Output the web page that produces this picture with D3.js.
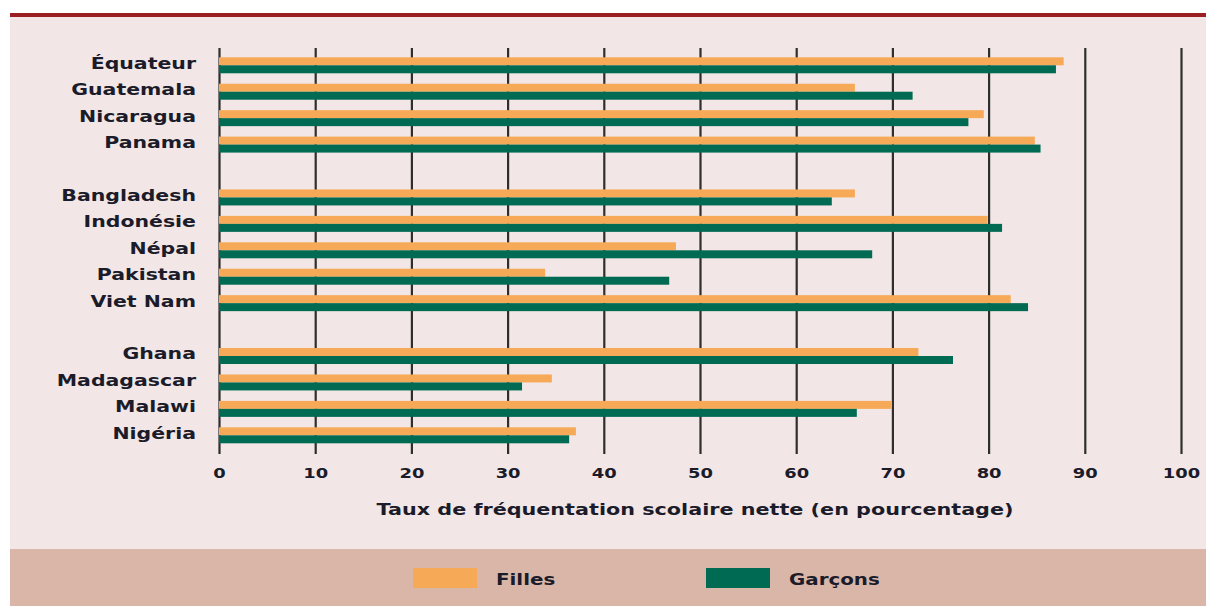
<!DOCTYPE html>
<html>
<head>
<meta charset="utf-8">
<script src="https://cdn.jsdelivr.net/npm/d3@7"></script>
<style>
  body { margin: 0; background: #ffffff; }
  svg { display: block; }
  text { font-family: "DejaVu Sans", sans-serif; font-weight: bold; fill: #1b1b2a; }
</style>
</head>
<body>
<div id="c"></div>
<script>
// countries in display order, regions split after these names
var countries = ["Équateur", "Guatemala", "Nicaragua", "Panama",
	"Bangladesh", "Indonésie", "Népal", "Pakistan", "Viet Nam",
	"Ghana", "Madagascar", "Malawi", "Nigéria"];
var region_ends = ["Panama", "Viet Nam"];

var filles  = [87.8, 66.1, 79.5, 84.8, 66.1, 79.9, 47.5, 33.9, 82.3, 72.7, 34.6, 69.9, 37.1];
var garcons = [87.0, 72.1, 77.9, 85.4, 63.7, 81.4, 67.9, 46.8, 84.1, 76.3, 31.5, 66.3, 36.4];

var series = ["Filles", "Garçons"];
var x_ticks = [0, 10, 20, 30, 40, 50, 60, 70, 80, 90, 100];
var x_title = "Taux de fréquentation scolaire nette (en pourcentage)";

var width = 1206;
var height = 606;
var stretch = 1.28; // the source text is wide

var colors = { "Filles": "#f6aa57", "Garçons": "#006a52" };

// slots: countries plus blank rows between regions
var slots = [];
countries.forEach(function(c) {
	slots.push(c);
	if (region_ends.indexOf(c) >= 0) { slots.push("gap-" + c); }
});

var data = countries.map(function(c, i) {
	return { country: c, values: [
		{ key: "Filles", v: filles[i] },
		{ key: "Garçons", v: garcons[i] } ] };
});

var svg = d3.select("#c").append("svg")
	.attr("width", width)
	.attr("height", height);

// background pieces
svg.append("rect")
	.attr("x", 10).attr("y", 17)
	.attr("width", width - 10).attr("height", 532)
	.attr("fill", "#f2e7e6");

svg.append("rect")
	.attr("x", 10).attr("y", 13)
	.attr("width", width - 10).attr("height", 4)
	.attr("fill", "#9a1f22");

svg.append("rect")
	.attr("x", 10).attr("y", 549)
	.attr("width", width - 10).attr("height", 57)
	.attr("fill", "#dab6a9");

var x_scale = d3.scaleLinear()
	.domain([0, 100])
	.range([219, 1181]);

var y_scale = d3.scaleBand()
	.domain(slots)
	.range([57.3, 443.3])
	.paddingInner(0.395)
	.paddingOuter(0);

var sub_scale = d3.scaleBand()
	.domain(series)
	.range([0, y_scale.bandwidth()]);

var grid_top = 48, grid_bottom = 454;

// gridlines + tick labels
var x_axis = svg.append("g")
	.attr("class", "x-axis")
	.attr("transform", "translate(0," + grid_bottom + ")")
	.call(d3.axisBottom(x_scale)
		.tickValues(x_ticks)
		.tickSize(-(grid_bottom - grid_top))
		.tickPadding(14));

x_axis.select(".domain").remove();
x_axis.selectAll("line")
	.attr("stroke", "#2e2e2e")
	.attr("stroke-width", 2.2);
x_axis.selectAll("text")
	.attr("font-size", 14)
	.attr("font-family", "DejaVu Sans")
	.attr("font-weight", "bold")
	.attr("fill", "#1b1b2a")
	.attr("transform", "scale(" + stretch + ",1)");

// country labels
var y_axis = svg.append("g")
	.attr("class", "y-axis")
	.attr("transform", "translate(196,0)")
	.call(d3.axisLeft(y_scale)
		.tickValues(countries)
		.tickSize(0)
		.tickPadding(0));

y_axis.select(".domain").remove();
y_axis.selectAll("text")
	.attr("font-size", 16)
	.attr("font-family", "DejaVu Sans")
	.attr("font-weight", "bold")
	.attr("fill", "#1b1b2a")
	.attr("dy", "0.21em")
	.attr("transform", "scale(" + stretch + ",1)");

// bars
var rows = svg.selectAll(".country-group")
	.data(data)
	.enter()
	.append("g")
	.attr("class", "country-group")
	.attr("transform", function(d) { return "translate(0," + y_scale(d.country) + ")"; });

rows.selectAll("rect")
	.data(function(d) { return d.values; })
	.enter()
	.append("rect")
	.attr("x", x_scale(0))
	.attr("y", function(d) { return sub_scale(d.key); })
	.attr("width", function(d) { return x_scale(d.v) - x_scale(0); })
	.attr("height", sub_scale.bandwidth())
	.attr("fill", function(d) { return colors[d.key]; });

// axis title
svg.append("text")
	.attr("transform", "translate(695,515) scale(" + stretch + ",1)")
	.attr("text-anchor", "middle")
	.attr("font-size", 16.2)
	.text(x_title);

// legend
var legend_x = [413, 706];
var lg = svg.selectAll(".legend-item")
	.data(series)
	.enter()
	.append("g")
	.attr("class", "legend-item")
	.attr("transform", function(d, i) { return "translate(" + legend_x[i] + ",568)"; });

lg.append("rect")
	.attr("width", 64)
	.attr("height", 20)
	.attr("fill", function(d) { return colors[d]; });

lg.append("text")
	.attr("transform", "translate(83,17) scale(" + stretch + ",1)")
	.attr("font-size", 15.5)
	.text(function(d) { return d; });
</script>
</body>
</html>
